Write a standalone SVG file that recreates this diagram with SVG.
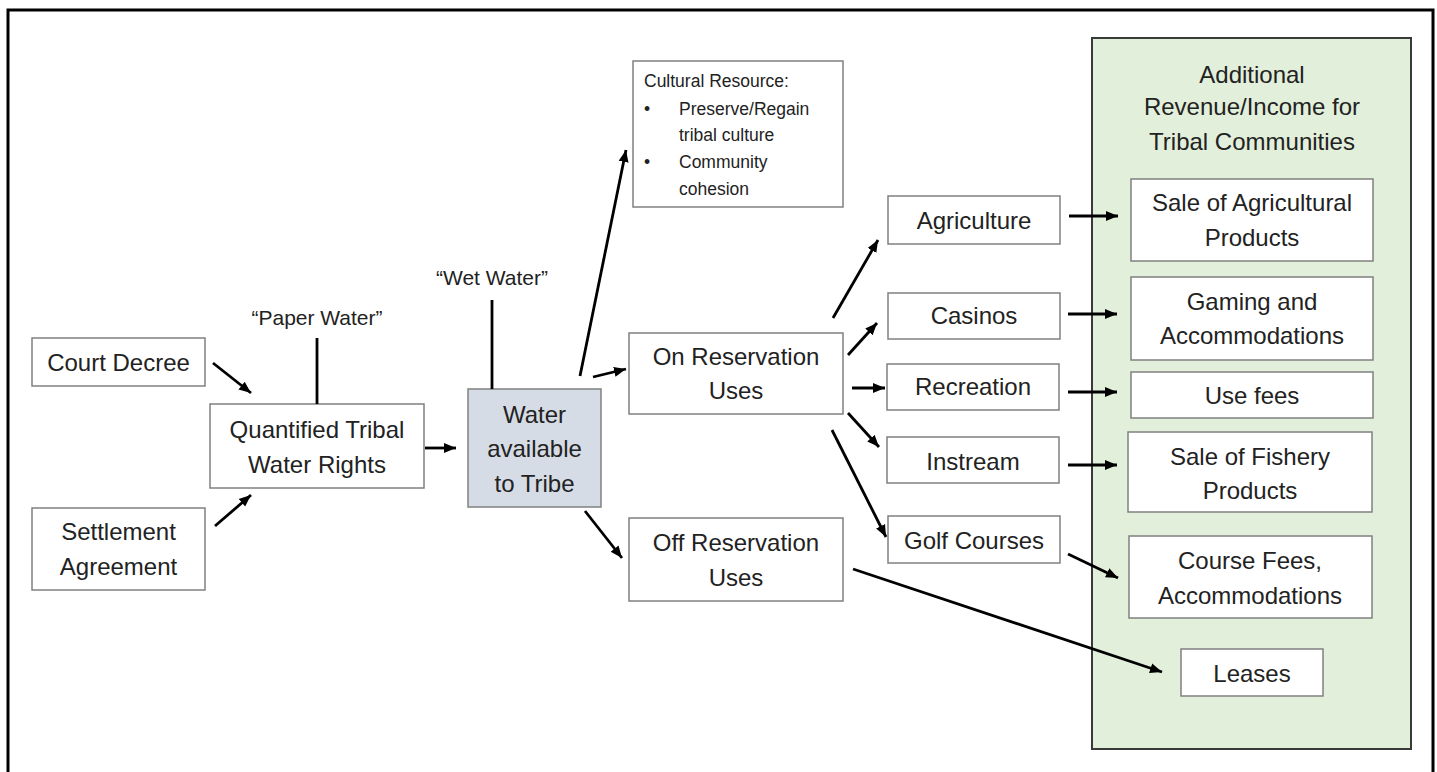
<svg xmlns="http://www.w3.org/2000/svg" width="1437" height="772" viewBox="0 0 1437 772">
<defs>
<marker id="ah" markerUnits="userSpaceOnUse" markerWidth="14" markerHeight="12" refX="12" refY="6" orient="auto">
<path d="M0,1 L12,6 L0,11 z" fill="#000"/>
</marker>
<style>
.bx{fill:#fff;stroke:#808080;stroke-width:1.5}
.t{font-family:"Liberation Sans",Arial,sans-serif;font-size:24px;fill:#222;text-anchor:middle}
.ts{font-family:"Liberation Sans",Arial,sans-serif;font-size:17.5px;fill:#222}
.tq{font-family:"Liberation Sans",Arial,sans-serif;font-size:21px;fill:#222;text-anchor:middle}
.c{stroke:#000;stroke-width:2.8;fill:none}
.a{stroke:#000;stroke-width:2.8;fill:none;marker-end:url(#ah)}
</style>
</defs>
<rect width="1437" height="772" fill="#fff"/>
<rect x="8" y="10" width="1425" height="800" fill="none" stroke="#000" stroke-width="3"/>

<g id="revenue-panel">
<rect x="1092" y="38" width="319" height="711" fill="#e2efda" stroke="#3a3a3a" stroke-width="2"/>
<text class="t" x="1252" y="83">Additional</text>
<text class="t" x="1252" y="115">Revenue/Income for</text>
<text class="t" x="1252" y="150">Tribal Communities</text>
</g>

<g id="court-decree"><rect class="bx" x="32" y="338" width="173" height="48"/><text class="t" x="118.5" y="371">Court Decree</text></g>
<g id="settlement"><rect class="bx" x="32" y="508" width="173" height="82"/><text class="t" x="118.5" y="540">Settlement</text><text class="t" x="118.5" y="575">Agreement</text></g>
<g id="quantified"><rect class="bx" x="210" y="404" width="214" height="84"/><text class="t" x="317" y="438">Quantified Tribal</text><text class="t" x="317" y="473">Water Rights</text></g>
<g id="paper-water"><text class="tq" x="317" y="325">“Paper Water”</text></g>
<g id="water-available"><rect x="468" y="389" width="133" height="118" fill="#d6dce5" stroke="#808080" stroke-width="1.5"/><text class="t" x="534.5" y="423">Water</text><text class="t" x="534.5" y="457">available</text><text class="t" x="534.5" y="492">to Tribe</text></g>
<g id="wet-water"><text class="tq" x="492" y="285">“Wet Water”</text></g>
<g id="cultural"><rect class="bx" x="633" y="61" width="210" height="146"/>
<text class="ts" x="644" y="87">Cultural Resource:</text>
<text class="ts" x="644" y="115">•</text><text class="ts" x="679" y="115">Preserve/Regain</text>
<text class="ts" x="679" y="141">tribal culture</text>
<text class="ts" x="644" y="168">•</text><text class="ts" x="679" y="168">Community</text>
<text class="ts" x="679" y="195">cohesion</text></g>
<g id="on-reservation"><rect class="bx" x="629" y="333" width="214" height="81"/><text class="t" x="736" y="365">On Reservation</text><text class="t" x="736" y="399">Uses</text></g>
<g id="off-reservation"><rect class="bx" x="629" y="518" width="214" height="83"/><text class="t" x="736" y="551">Off Reservation</text><text class="t" x="736" y="586">Uses</text></g>

<g id="agriculture"><rect class="bx" x="888" y="196" width="172" height="48"/><text class="t" x="974" y="229">Agriculture</text></g>
<g id="casinos"><rect class="bx" x="888" y="293" width="172" height="46"/><text class="t" x="974" y="324">Casinos</text></g>
<g id="recreation"><rect class="bx" x="887" y="364" width="172" height="46"/><text class="t" x="973" y="395">Recreation</text></g>
<g id="instream"><rect class="bx" x="887" y="437" width="172" height="46"/><text class="t" x="973" y="470">Instream</text></g>
<g id="golf"><rect class="bx" x="888" y="516" width="172" height="47"/><text class="t" x="974" y="549">Golf Courses</text></g>

<g id="sale-ag"><rect class="bx" x="1131" y="179" width="242" height="82"/><text class="t" x="1252" y="211">Sale of Agricultural</text><text class="t" x="1252" y="246">Products</text></g>
<g id="gaming"><rect class="bx" x="1131" y="277" width="242" height="83"/><text class="t" x="1252" y="310">Gaming and</text><text class="t" x="1252" y="344">Accommodations</text></g>
<g id="use-fees"><rect class="bx" x="1131" y="372" width="242" height="46"/><text class="t" x="1252" y="404">Use fees</text></g>
<g id="sale-fish"><rect class="bx" x="1128" y="432" width="244" height="80"/><text class="t" x="1250" y="465">Sale of Fishery</text><text class="t" x="1250" y="499">Products</text></g>
<g id="course-fees"><rect class="bx" x="1129" y="536" width="243" height="82"/><text class="t" x="1250" y="569">Course Fees,</text><text class="t" x="1250" y="604">Accommodations</text></g>
<g id="leases"><rect class="bx" x="1181" y="649" width="142" height="47"/><text class="t" x="1252" y="682">Leases</text></g>

<g id="connectors">
<line class="c" x1="317" y1="338" x2="317" y2="404"/>
<line class="c" x1="492" y1="300" x2="492" y2="389"/>
<line class="a" x1="213" y1="363" x2="251" y2="393"/>
<line class="a" x1="215" y1="526" x2="251" y2="495"/>
<line class="a" x1="425" y1="448" x2="456" y2="448"/>
<line class="a" x1="580" y1="376" x2="626" y2="150"/>
<line class="a" x1="593" y1="377" x2="626" y2="369"/>
<line class="a" x1="585" y1="511" x2="622" y2="558"/>
<line class="a" x1="833" y1="318" x2="878" y2="240"/>
<line class="a" x1="848" y1="355" x2="877" y2="323"/>
<line class="a" x1="852" y1="388" x2="885" y2="388"/>
<line class="a" x1="848" y1="413" x2="879" y2="447"/>
<line class="a" x1="832" y1="430" x2="886" y2="537"/>
<line class="a" x1="1069" y1="216" x2="1118" y2="216"/>
<line class="a" x1="1068" y1="314" x2="1117" y2="314"/>
<line class="a" x1="1068" y1="392" x2="1117" y2="392"/>
<line class="a" x1="1068" y1="465" x2="1117" y2="465"/>
<line class="a" x1="1068" y1="554" x2="1118" y2="578"/>
<line class="a" x1="853" y1="569" x2="1162" y2="672"/>
</g>
</svg>
